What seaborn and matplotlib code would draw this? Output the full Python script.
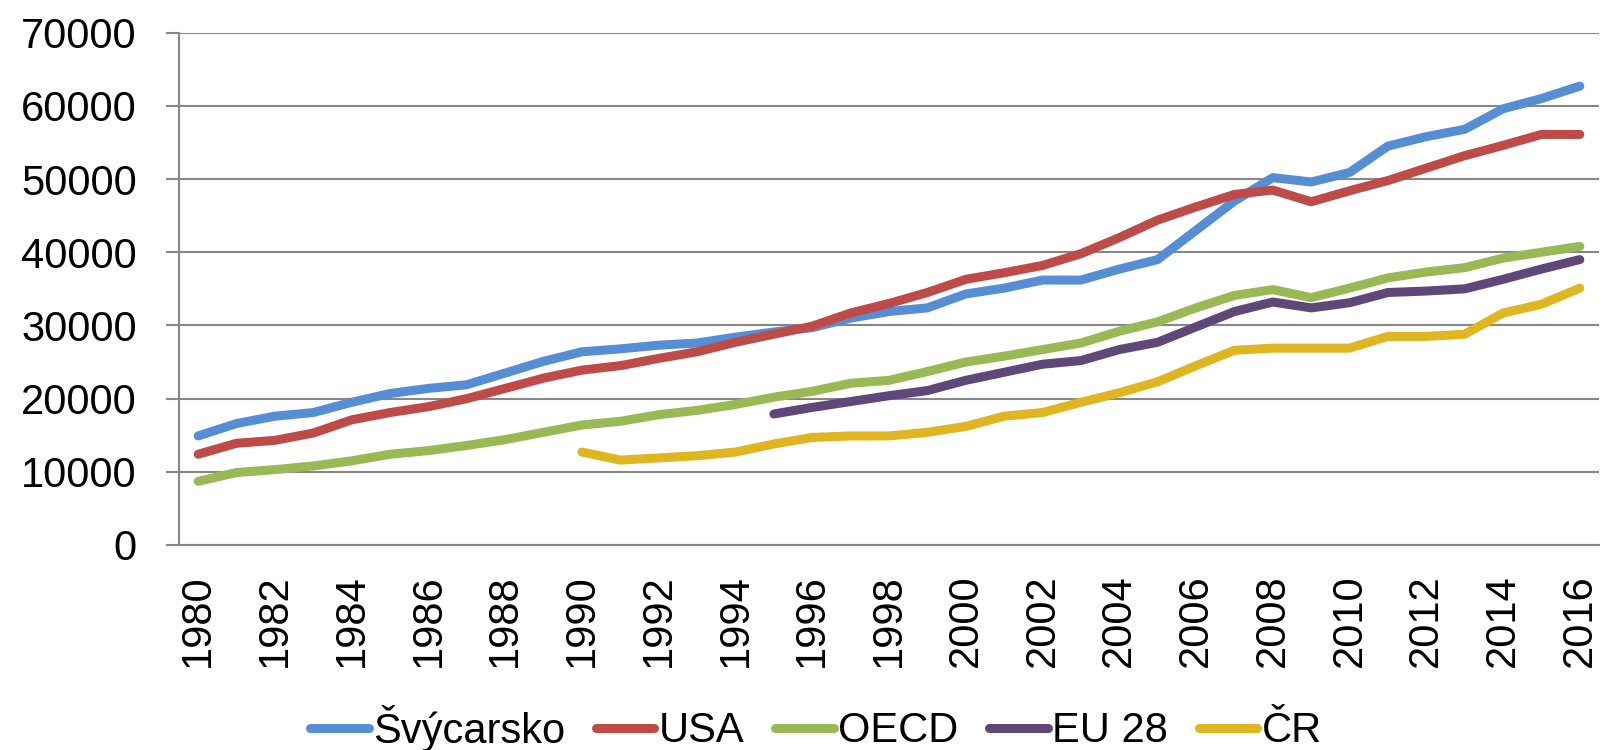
import matplotlib
matplotlib.use("Agg")
import matplotlib.pyplot as plt
from matplotlib.lines import Line2D
import seaborn as sns
import pandas as pd
import numpy as np

years = list(range(1980, 2017))

svycarsko = [14900, 16600, 17600, 18100, 19500, 20700, 21400, 21900, 23500, 25100, 26400, 26800,
             27300, 27600, 28400, 29100, 29700, 31000, 31900, 32400, 34300, 35100, 36200, 36200,
             37700, 39000, 43000, 47000, 50200, 49600, 50900, 54500, 55800, 56800, 59600, 61000, 62700]
usa = [12400, 13900, 14300, 15300, 17100, 18100, 18900, 20000, 21400, 22800, 23900, 24500,
       25500, 26400, 27700, 28800, 29900, 31700, 33000, 34500, 36300, 37200, 38200, 39800,
       42000, 44400, 46200, 47900, 48500, 46900, 48400, 49800, 51500, 53200, 54600, 56100, 56100]
oecd = [8700, 9900, 10300, 10800, 11500, 12400, 12900, 13600, 14400, 15400, 16400, 16900,
        17800, 18400, 19200, 20200, 21000, 22100, 22500, 23700, 25000, 25800, 26700, 27600,
        29200, 30500, 32400, 34100, 34900, 33800, 35100, 36500, 37300, 37900, 39200, 40000, 40800]
eu28 = [None] * 15 + [17900, 18800, 19600, 20400, 21100, 22500, 23600, 24700, 25200,
                      26700, 27700, 29800, 31900, 33200, 32400, 33100, 34500, 34700, 35000,
                      36300, 37700, 39000]
cr = [None] * 10 + [12700, 11600, 11900, 12200, 12700, 13800, 14700, 14900, 14900, 15400,
                    16200, 17600, 18100, 19500, 20800, 22300, 24500, 26600, 26900, 26900,
                    26900, 28500, 28500, 28800, 31700, 32900, 35100]

series_names = ["Švýcarsko", "USA", "OECD", "EU 28", "ČR"]
series_values = [svycarsko, usa, oecd, eu28, cr]
colors = ["#558ED5", "#BE4B48", "#98B954", "#5F4879", "#E0B522"]

rows = []
for name, vals in zip(series_names, series_values):
    for y, v in zip(years, vals):
        if v is not None:
            rows.append({"year": y, "value": v, "series": name})
df = pd.DataFrame(rows)

sns.set_style("white")
plt.rcParams["font.family"] = ["Liberation Sans", "DejaVu Sans"]
plt.rcParams["text.color"] = "black"
plt.rcParams["xtick.labelcolor"] = "black"
plt.rcParams["ytick.labelcolor"] = "black"
grid_col = "#878787"

fig = plt.figure(figsize=(16.04, 7.5), dpi=100)
ax = fig.add_axes([179 / 1604, 1 - 545 / 750, (1599 - 179) / 1604, (545 - 32.7) / 750])

sns.lineplot(data=df, x="year", y="value", hue="series", hue_order=series_names,
             palette=colors, linewidth=6.5, solid_capstyle="round", legend=False, ax=ax)

ax.set_xlim(1979.5, 2016.5)
ax.set_ylim(0, 70000)
ax.set_yticks(range(0, 70001, 10000))
ax.set_xticks(years[::2])
ax.set_xticks(np.arange(1979.5, 2017, 1), minor=True)
ax.tick_params(axis="x", which="major", length=0, pad=21, labelsize=30, labelrotation=90)
ax.tick_params(axis="x", which="minor", length=9.5, width=1.5, color=grid_col, direction="out")
ax.tick_params(axis="y", length=9.5, width=1.5, color=grid_col, pad=21, labelsize=30, left=True)
ax.set_xlabel("")
ax.set_ylabel("")

ax.yaxis.grid(True, color=grid_col, linewidth=1.5)
ax.xaxis.grid(False)
ax.set_axisbelow(True)
for s in ["top", "right"]:
    ax.spines[s].set_visible(False)
for s in ["left", "bottom"]:
    ax.spines[s].set_color(grid_col)
    ax.spines[s].set_linewidth(1.5)

handles = [Line2D([0], [0], color=c, lw=6.5, solid_capstyle="round") for c in colors]
fig.legend(handles, series_names, loc="center", bbox_to_anchor=(816 / 1604, 1 - 728 / 750),
           ncol=5, frameon=False, fontsize=30, handlelength=1.4, handletextpad=0.1,
           columnspacing=0.75, borderpad=0)

fig.savefig("out.png", dpi=100)
